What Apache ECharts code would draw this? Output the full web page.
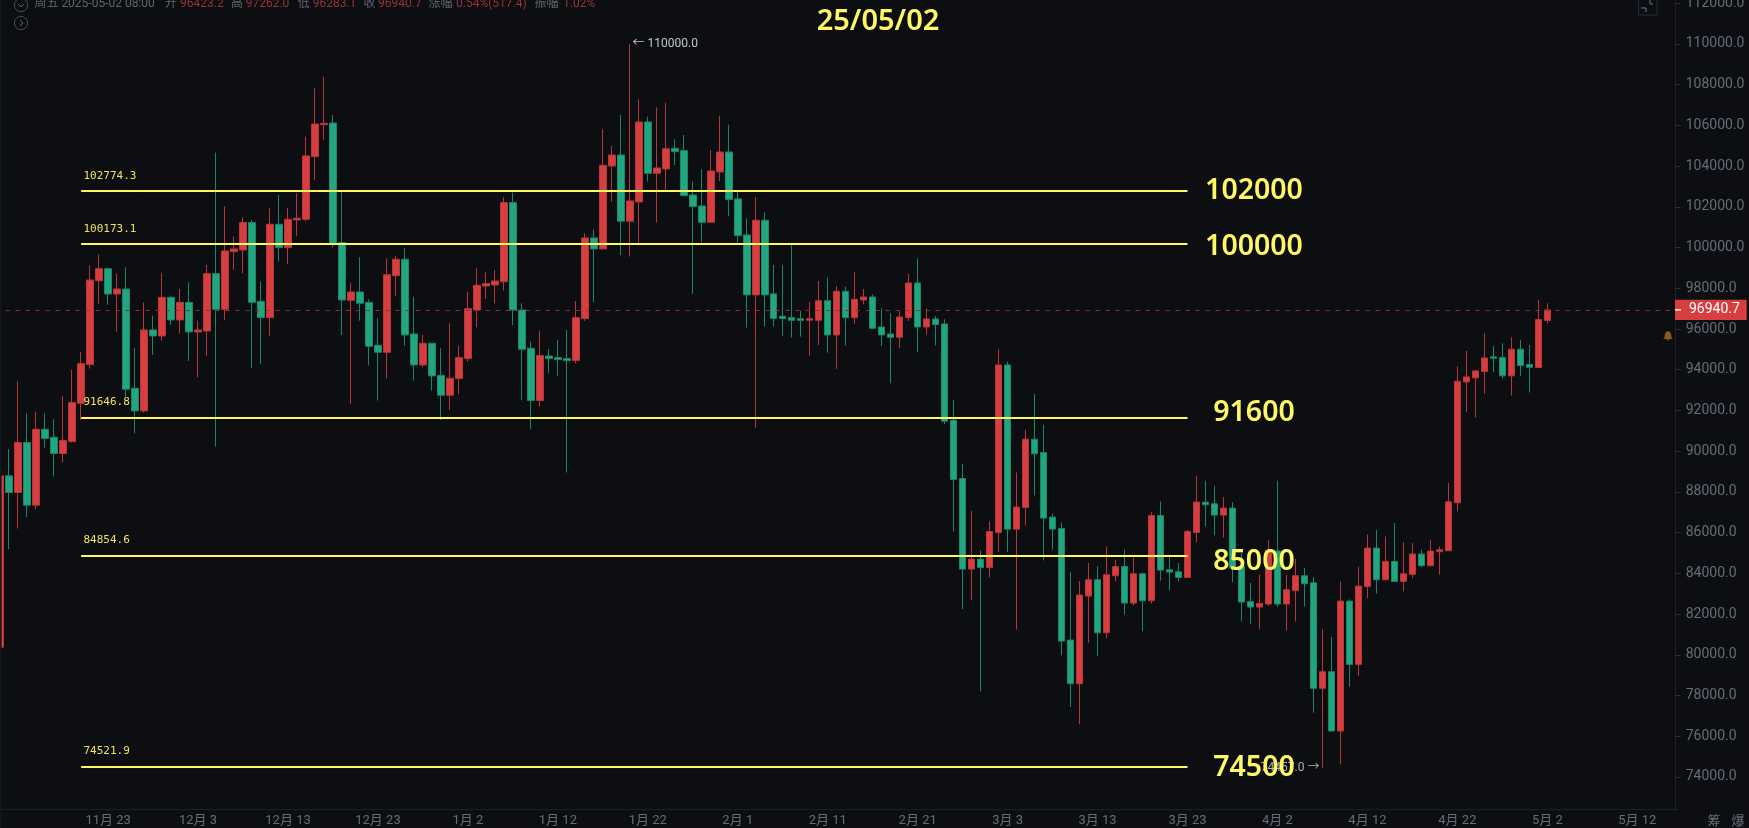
<!DOCTYPE html>
<html><head><meta charset="utf-8">
<style>html,body{margin:0;padding:0;background:#0c0e11;overflow:hidden}#c{width:1749px;height:828px}</style>
<script src="https://cdn.jsdelivr.net/npm/echarts@6/dist/echarts.min.js"></script>
</head><body><div id="c"></div>
<script>
const monthSpans = [['11月',11,30],['12月',1,31],['1月',1,31],['2月',1,28],['3月',1,31],['4月',1,30],['5月',1,16]];
const categories = [];
monthSpans.forEach(m => { for (let d = m[1]; d <= m[2]; d++) categories.push(m[0] + ' ' + d); });

const opens = [80370,88790,87971,90425,87349,91079,90686,89885,90474,92355,94253,98376,98965,97721,97967,93091,91979,95954,95660,97558,96445,97312,95856,95905,98719,96969,99804,99886,101228,97361,96560,101146,100000,101358,101391,104467,106037,106119,100246,97410,97819,97312,95202,94858,98621,99428,95758,94237,95300,93729,92748,93566,94547,96936,98114,98163,98327,102209,96936,95055,92486,94678,94596,94547,94449,96510,100475,99935,104008,104548,101293,102242,106168,103649,103861,104875,104761,102585,102045,101244,103714,104695,102389,100622,97677,101342,97727,96630,96560,96510,96429,96429,97394,95709,97852,96560,97427,97574,96101,95758,95594,96560,98261,96101,96494,96249,91521,88658,84209,84699,84288,86008,94236,86172,87237,90591,89936,86762,86206,80723,78580,82883,83687,81083,83883,84341,82541,83981,82656,86844,84177,84079,83801,86010,87499,87417,86861,87204,84341,82623,82345,82492,85100,82492,83147,83883,83537,78351,79169,76257,82636,79529,83360,85241,83686,84586,83605,83948,84946,84374,85061,85110,87466,93404,93601,93912,94633,94600,93700,95009,94256,94109,96423.2];
const closes = [88790,87970,90425,87349,91079,90621,89885,90523,92388,94302,98408,98965,97721,97967,93042,91979,95954,95660,97558,96445,97312,95856,95954,98719,96969,99837,99935,101228,97312,96560,101146,100000,101391,101440,104500,106070,106103,100164,97427,97819,97263,95153,94858,98670,99428,95709,94237,95300,93697,92748,93582,94596,97002,98147,98229,98359,102209,96936,95006,92486,94695,94547,94498,94449,96560,100475,99935,104041,104548,101293,102291,106168,103649,103910,104859,104712,102553,102012,101244,103763,104695,102356,100589,97677,101342,97677,96515,96515,96429,96429,96510,97394,95709,97852,96560,97460,97574,96036,95709,95594,96592,98261,96101,96494,96216,91472,88609,84209,84699,84288,86055,94236,86172,87253,90591,89871,86713,86173,80674,78580,82934,83687,81083,83932,84341,82541,83981,82656,86844,84161,84063,83801,86059,87499,87368,86861,87204,84259,82590,82345,82525,85100,82492,83196,83883,83490,78351,79169,76257,82636,79529,83373,85241,83686,84586,83605,83981,84946,84374,85094,85159,87515,93437,93650,93944,94582,94567,93700,95009,94207,94125,96465,96940.7];
const lows = [80370,85190,86204,86760,87152,90163,88756,89459,90425,91537,94057,97247,97198,95873,92682,90883,91897,94727,95431,96183,95774,94433,93631,94678,90228,96445,98904,98740,94073,94286,95676,99313,99199,100573,101276,103322,105285,100000,95709,92306,96412,94220,92486,93566,97623,95185,93468,94122,92977,91537,92028,92813,94400,96085,97476,97263,97885,96200,92519,91079,92192,93828,93697,88952,94318,96400,97334,99900,102258,99640,99559,100213,103240,101244,102830,104057,102503,97726,100278,101244,103272,101555,100246,96074,91161,96123,96123,95660,95594,95627,94678,95218,94842,94040,95185,96249,97214,96003,95169,93337,95055,96396,94858,95725,95202,91325,86057,82246,82702,78200,83797,85043,85043,81229,86353,87826,84635,85159,79971,77435,76584,80592,79938,80805,83605,81969,82427,81150,82525,83638,83163,83605,83790,85519,86304,85862,85764,83572,81642,81527,81247,82400,82345,81198,81642,82378,77157,74457,76257,74621,78433,78956,82787,83000,83650,83590,83114,83768,84308,84340,83932,85100,87040,91932,91654,92816,93880,93585,92735,93700,92882,94100,96283.1];
const highs = [88790,90100,93435,91864,91946,91864,91570,92715,93991,94858,99128,99673,98990,98708,99030,95087,97296,96658,98736,97600,97967,98294,96412,99145,104663,102029,100540,101489,101358,98327,101931,102585,101931,102667,105448,107821,108393,106512,102749,98277,99526,97460,96527,99477,99591,99968,97590,95725,95320,95055,96282,95185,97836,98981,98785,98899,102471,102700,97263,95382,95922,95022,95464,95954,97378,100704,100900,105808,104990,106512,110000,107280,106430,106888,107117,105317,105530,103240,103845,104794,106479,106037,102749,101440,102487,101735,99150,99133,100131,96903,97329,98359,98523,98114,98081,98817,97967,97705,97018,96772,96903,98703,99477,97018,96641,96478,92519,89378,87071,85122,86546,95006,94400,88954,91049,92815,91294,86926,86500,84063,83621,84505,84341,85323,84668,85159,84750,83990,87008,87531,84864,84505,86141,88791,88546,88300,87744,87499,85000,83523,83932,85617,88546,83932,84717,84259,83817,81247,80871,83586,82719,84322,85895,86124,85813,86468,85535,85486,85159,85650,85323,88431,94157,94926,93990,95794,95172,95303,95598,95467,95221,97430,97262];

const levelValues = [102774.3, 100173.1, 91646.8, 84854.6, 74521.9];
const levelNames = ['102000', '100000', '91600', '85000', '74500'];
const levelNameAnchors = [102872, 100099, 91965, 84634, 74500];
const yTicks = [74000,76000,78000,80000,82000,84000,86000,88000,90000,92000,94000,96000,98000,100000,102000,104000,106000,108000,110000,112000];
const lastPrice = 96940.7;
const highMark = 110000, lowMark = 74457;

const ohlc = opens.map((o, i) => [o, closes[i], lows[i], highs[i]]);
const YEL = '#FFF763', RED = '#D63E40', GRN = '#22A680', AXT = '#666C7A';
const UI = 'Roboto, "Noto Sans CJK SC", sans-serif';

const header = [['周五 2025-05-02 08:00',34.4,'#5f6570'],['开',165,'#5f6570'],['96423.2',180,'#96343a'],['高',231,'#5f6570'],['97262.0',245.7,'#96343a'],['低',297.7,'#5f6570'],['96283.1',312.7,'#96343a'],['收',363.6,'#5f6570'],['96940.7',378,'#96343a'],['涨幅',428.6,'#5f6570'],['0.54%(517.4)',456,'#96343a'],['振幅',534.6,'#5f6570'],['1.02%',563,'#96343a']];

const chart = echarts.init(document.getElementById('c'), null, {renderer:'canvas', width:1749, height:828});
const option = {
  animation:false,
  backgroundColor:'#0c0e11',
  grid:{left:-4.32, top:0.7, width:1682.07, height:808.3, containLabel:false, outerBoundsMode:'none'},
  xAxis:{type:'category', data:categories, boundaryGap:true,
    axisLine:{show:true, lineStyle:{color:'#1d2026'}}, axisTick:{show:false}, splitLine:{show:false},
    axisLabel:{interval:(i)=> i>=12 && (i-12)%10===0, color:AXT, fontSize:13, fontFamily:UI, margin:5,
      formatter:v=>v, hideOverlap:false}},
  yAxis:{type:'value', position:'right', offset:-2.75, min:72426, max:112126, scale:true,
    axisLine:{show:true, lineStyle:{color:'#1d2026'}},
    axisTick:{show:true, length:5.6, lineStyle:{color:'#2a2d34'}, customValues:yTicks},
    splitLine:{show:false},
    axisLabel:{color:AXT, fontSize:14, fontFamily:UI, margin:10.7, align:'left', customValues:yTicks, formatter:v=>v.toFixed(1)}},
  series:[{
    type:'candlestick', data:ohlc, barWidth:7, clip:true,
    itemStyle:{color:RED, color0:GRN, borderColor:'#B8353A', borderColor0:'#1A8568', borderWidth:1},
    markLine:{silent:true, symbol:'none', animation:false, data:[
      ...levelValues.map(v=>[{xAxis:9,yAxis:v,lineStyle:{color:YEL,width:2,type:'solid'},label:{show:false}},{xAxis:132,yAxis:v}]),
      {yAxis:lastPrice, lineStyle:{color:'#93302F',width:1,type:[4,6]},
       label:{show:true, position:'end', distance:-2.75, formatter:lastPrice.toFixed(1), color:'#fff', fontSize:14, fontWeight:400, fontFamily:UI,
              backgroundColor:RED, padding:[0,0,0,14], width:57.7, height:20.3, lineHeight:20.3, align:'left', verticalAlign:'middle'}}
    ]},
    markPoint:{silent:true, animation:false, symbol:'circle', symbolSize:0, data:[
      ...levelValues.map(v=>({coord:[9,v], label:{show:true, position:'right', distance:0, offset:[2.3,-15.4], formatter:v.toFixed(1), color:'#EFE35A', fontSize:11, fontFamily:'"DejaVu Sans Mono", monospace'}})),
      {coord:[70,highMark], label:{show:true, position:'right', distance:0, offset:[2.7,0], formatter:'← '+highMark.toFixed(1), color:'#C2C6CC', fontSize:12, fontFamily:UI}},
      {coord:[147,lowMark], label:{show:true, position:'left', distance:0, offset:[-3,0], formatter:lowMark.toFixed(1)+' →', color:'#A9ADB4', fontSize:12, fontFamily:UI}},
      ...levelNames.map((t,i)=>({coord:[139,levelNameAnchors[i]], label:{show:true, position:'inside', offset:[3.5,1.5], formatter:t, color:YEL, fontSize:28.5, fontWeight:600, fontFamily:'"Noto Sans", sans-serif'}}))
    ]}
  }],
  graphic:[
    {type:'text', z:50, x:878, y:22, style:{text:'25/05/02', fill:YEL, font:'600 29px "Noto Sans", sans-serif', textAlign:'center', textVerticalAlign:'middle'}},
    ...header.map(h=>({type:'text', z:50, x:h[1], y:4, style:{text:h[0], fill:h[2], font:'12px '+UI, textVerticalAlign:'middle'}})),
    {type:'circle', z:50, shape:{cx:21,cy:5,r:6.6}, style:{fill:'none',stroke:'#474c55',lineWidth:1}},
    {type:'polyline', z:50, shape:{points:[[18,4],[21,7],[24,4]]}, style:{fill:'none',stroke:'#5a5f68',lineWidth:1}},
    {type:'circle', z:50, shape:{cx:21,cy:23,r:6.6}, style:{fill:'none',stroke:'#474c55',lineWidth:1}},
    {type:'polyline', z:50, shape:{points:[[20,20],[23,23],[20,26]]}, style:{fill:'none',stroke:'#5a5f68',lineWidth:1}},
    {type:'rect', z:50, shape:{x:1638.5,y:-6,width:18.5,height:21}, style:{fill:'none',stroke:'#1e2a40',lineWidth:1}},
    {type:'polyline', z:50, shape:{points:[[1650,0],[1650,4],[1653,4]]}, style:{fill:'none',stroke:'#6d7380',lineWidth:1}},
    {type:'polyline', z:50, shape:{points:[[1641,8],[1646,8],[1646,12]]}, style:{fill:'none',stroke:'#6d7380',lineWidth:1}},
    {type:'polygon', z:50, shape:{points:[[1668,331],[1670,332],[1671.2,334.5],[1671.4,337],[1672.8,339],[1669.5,339],[1668,341],[1666.5,339],[1663.2,339],[1664.6,337],[1664.8,334.5],[1666,332]]}, style:{fill:'#8A5C14'}},
    {type:'text', z:50, x:1707.5, y:820, style:{text:'筹', fill:AXT, font:'13px "Noto Sans CJK SC"', textVerticalAlign:'middle'}},
    {type:'text', z:50, x:1731.5, y:820, style:{text:'爆', fill:AXT, font:'13px "Noto Sans CJK SC"', textVerticalAlign:'middle'}},
    {type:'rect', z:60, shape:{x:0,y:0,width:1.6,height:828}, style:{fill:'#14161d'}},
    {type:'rect', z:60, id:'tagTick', shape:{x:1675,y:309.5,width:6,height:1.4}, style:{fill:'#fff'}}
  ]
};
chart.setOption(option);
const tickY = chart.convertToPixel({yAxisIndex:0}, lastPrice);
chart.setOption({graphic:[{id:'tagTick', shape:{x:1675,y:tickY-0.7,width:6,height:1.4}}]});
</script></body></html>
